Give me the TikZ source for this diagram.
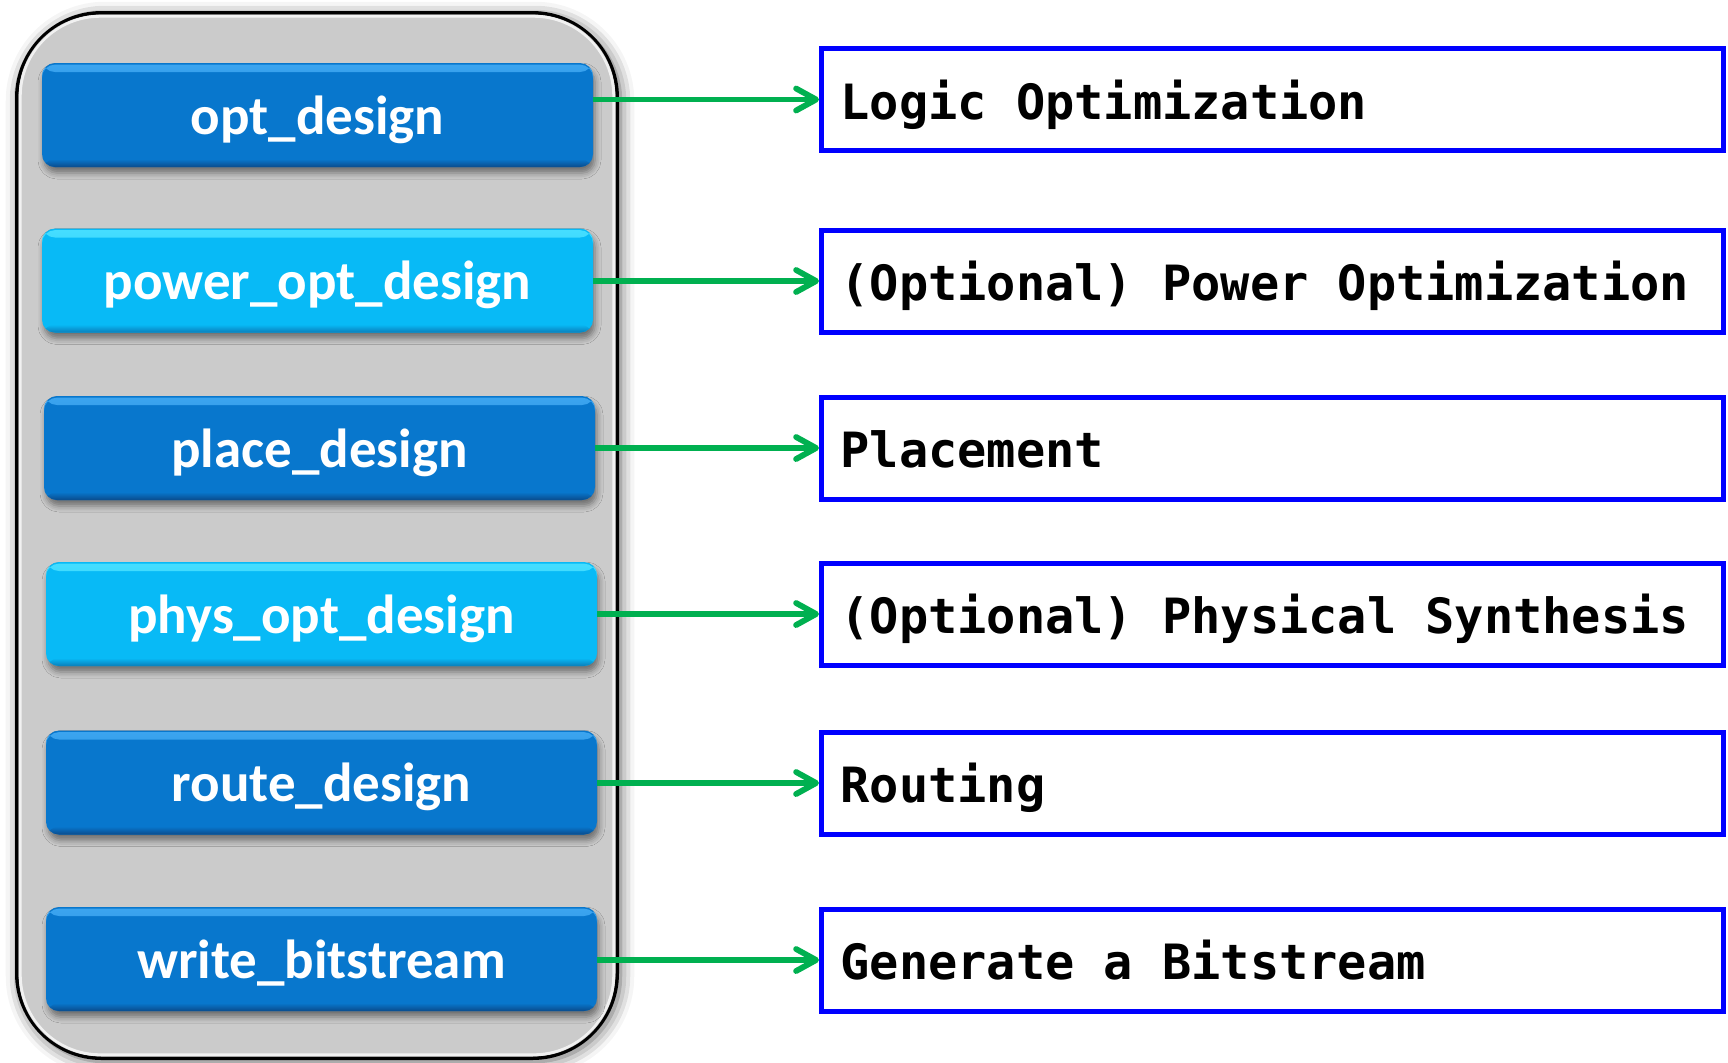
\documentclass[tikz,border=0pt]{standalone}
\usepackage{fontspec}
\newfontfamily\btnfont{Carlito}
\newfontfamily\boxfont{DejaVu Sans Mono}
\usetikzlibrary{arrows.meta,shadows.blur}
\newcommand\msp{\hspace*{0.6021em}}
\definecolor{panelgray}{RGB}{203,203,203}
\definecolor{btndark}{RGB}{8,119,205}
\definecolor{btndarkhl}{RGB}{60,165,240}
\definecolor{btndarkdeep}{RGB}{10,75,140}
\definecolor{btnlight}{RGB}{8,186,246}
\definecolor{btnlighthl}{RGB}{70,222,255}
\definecolor{btnlightdeep}{RGB}{10,125,185}
\definecolor{arrgreen}{RGB}{0,176,80}
\definecolor{boxblue}{RGB}{0,0,255}
\begin{document}
\begin{tikzpicture}[x=0.5pt,y=-0.5pt,
  panel/.style={rectangle, rounded corners=42.5pt, fill=panelgray, draw=black,
    line width=1.75pt, minimum width=300.25pt, minimum height=522.75pt, inner sep=0pt,
    blur shadow={shadow xshift=1.5pt, shadow yshift=-1.5pt, shadow blur radius=7pt,
      shadow opacity=65, shadow blur extra rounding}},
  btn/.style={rectangle, rounded corners=6.5pt, minimum width=275.5pt,
    minimum height=52pt, inner sep=0pt, text=white,
    font=\btnfont\bfseries\fontsize{27.5}{33}\selectfont,
    text height=19pt, text depth=0pt,
    blur shadow={shadow xshift=1pt, shadow yshift=-3pt, shadow blur radius=3pt,
      shadow opacity=45}},
  darkbtn/.style={btn, fill=btndark,
    path picture={
      \shade[top color=btndarkhl, bottom color=btndark]
        ([yshift=-0.8pt]path picture bounding box.north west) rectangle
        ([yshift=-4.5pt]path picture bounding box.north east);
      \shade[top color=btndark, bottom color=btndarkdeep]
        ([yshift=4pt]path picture bounding box.south west) rectangle
        (path picture bounding box.south east);}},
  lightbtn/.style={btn, fill=btnlight,
    path picture={
      \shade[top color=btnlighthl, bottom color=btnlight]
        ([yshift=-0.8pt]path picture bounding box.north west) rectangle
        ([yshift=-4.5pt]path picture bounding box.north east);
      \shade[top color=btnlight, bottom color=btnlightdeep]
        ([yshift=4pt]path picture bounding box.south west) rectangle
        (path picture bounding box.south east);}},
  stagebox/.style={rectangle, draw=boxblue, line width=2.5pt, fill=white,
    minimum width=451pt, minimum height=51pt, text width=432pt,
    inner xsep=9.5pt, inner ysep=0pt, align=left,
    font=\boxfont\bfseries\fontsize{24.3}{29}\selectfont,
    text height=19.5pt, text depth=0pt},
  arr/.style={draw=arrgreen, line width=2.9pt,
    -{Straight Barb[length=10pt,width=11pt,line cap=round,line join=round]}}
]
\useasboundingbox (0,0) rectangle (1728,1062);

\node[panel] (panel) at (317,535.5) {};
\draw[white, opacity=.75, line width=1.5pt, rounded corners=40pt]
  ([xshift=2.6pt,yshift=-2.6pt]panel.north west) rectangle
  ([xshift=-2.6pt,yshift=2.6pt]panel.south east);

\node[darkbtn]  (b1) at (317.5,115)   {opt\_design};
\node[lightbtn] (b2) at (317.5,280.5) {power\_opt\_design};
\node[darkbtn]  (b3) at (319.5,448)   {place\_design};
\node[lightbtn] (b4) at (321.5,614)   {phys\_opt\_design};
\node[darkbtn]  (b5) at (321.5,782.5) {route\_design};
\node[darkbtn]  (b6) at (321.5,959)   {write\_bitstream};

\node[stagebox] (r1) at (1272.5,99.5) {Logic\msp Optimization};
\node[stagebox] (r2) at (1272.5,281)  {(Optional)\msp Power\msp Optimization};
\node[stagebox] (r3) at (1272.5,448)  {Placement};
\node[stagebox] (r4) at (1272.5,614)  {(Optional)\msp Physical\msp Synthesis};
\node[stagebox] (r5) at (1272.5,783)  {Routing};
\node[stagebox] (r6) at (1272.5,960)  {Generate\msp a\msp Bitstream};

\foreach \i in {1,...,6}{
  \draw[arr] (b\i.east |- r\i.west) -- (r\i.west);
}
\end{tikzpicture}
\end{document}
